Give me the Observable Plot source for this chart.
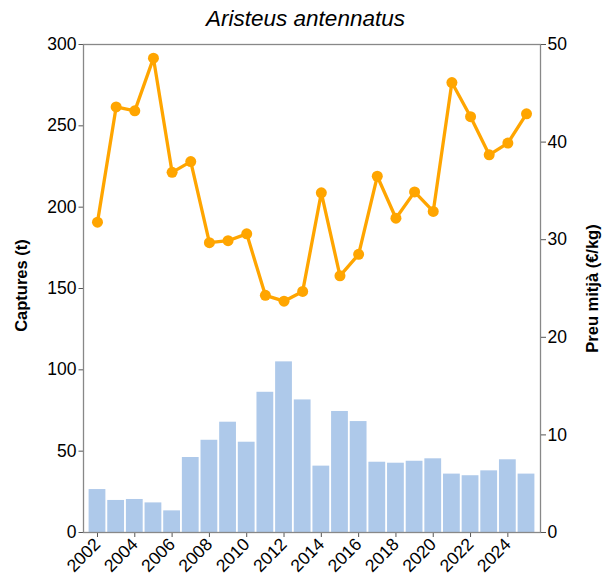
<!DOCTYPE html>
<html>
<head>
<meta charset="utf-8">
<script src="https://cdn.jsdelivr.net/npm/d3@7"></script>
<script src="https://cdn.jsdelivr.net/npm/@observablehq/plot@0.6"></script>
<style>
  html, body { margin: 0; padding: 0; background: #fff; }
  #wrap { position: relative; width: 611px; height: 581px; font-family: "Liberation Sans", Arial, sans-serif; }
  #wrap svg { position: absolute; left: 0; top: 0; }
  .title { position: absolute; left: 0; width: 611px; top: 6px; text-align: center; font-size: 22.5px; font-style: italic; color: #000; }
  .ylab { position: absolute; font-size: 16.5px; font-weight: bold; color: #000; white-space: nowrap; transform-origin: center center; }
</style>
</head>
<body>
<div id="wrap"></div>
<script>
const years = [2002,2003,2004,2005,2006,2007,2008,2009,2010,2011,2012,2013,2014,2015,2016,2017,2018,2019,2020,2021,2022,2023,2024,2025];
const captures = [26.4,19.7,20.3,18.2,13.3,46.1,56.7,67.8,55.5,86.2,104.9,81.5,40.8,74.4,68.2,43.2,42.6,43.8,45.3,35.9,34.9,37.9,44.7,35.9];
const price = [31.8,43.6,43.2,48.6,36.9,38.0,29.7,29.9,30.6,24.3,23.7,24.7,34.8,26.3,28.5,36.5,32.2,34.9,32.9,46.1,42.6,38.7,39.9,42.9];
const leftTicks = [0,50,100,150,200,250,300];
const rightTicks = [0,10,20,30,40,50];
const xTicks = [2002,2004,2006,2008,2010,2012,2014,2016,2018,2020,2022,2024];
const titleText = "Aristeus antennatus";
const leftLabel = "Captures (t)";
const rightLabel = "Preu mitjà (€/kg)";

const data = years.map((y, i) => ({year: y, captures: captures[i], price: price[i]}));

const FS = 17.5;
const common = {
  width: 611, height: 581,
  marginTop: 44, marginBottom: 49, marginLeft: 83, marginRight: 71,
  x: {type: "linear", domain: [2001.25, 2025.75]},
  style: {fontSize: FS + "px", fontFamily: "'Liberation Sans', Arial, sans-serif", background: "transparent", color: "#000", overflow: "visible"}
};

const p1 = Plot.plot({
  ...common,
  y: {domain: [0, 300]},
  marks: [
    Plot.rectY(data, {x1: d => d.year - 0.45, x2: d => d.year + 0.45, y: "captures", fill: "#aec9ea"}),
    Plot.axisY({ticks: leftTicks, tickSize: 4.5, tickPadding: 2.5, stroke: "#555", label: null, fill: "#000", fontSize: FS}),
    Plot.axisX({ticks: xTicks, tickFormat: d => String(d), tickSize: 5, tickRotate: -45, tickPadding: 4, stroke: "#555", label: null, fill: "#000", fontSize: FS}),
    Plot.frame({stroke: "#888", strokeWidth: 1.3})
  ]
});

const p2 = Plot.plot({
  ...common,
  y: {domain: [0, 50]},
  marks: [
    Plot.lineY(data, {x: "year", y: "price", stroke: "#ffa500", strokeWidth: 3.3}),
    Plot.dot(data, {x: "year", y: "price", fill: "#ffa500", r: 5.5}),
    Plot.axisY({anchor: "right", ticks: rightTicks, tickSize: 5, tickPadding: 2, stroke: "#555", label: null, fill: "#000", fontSize: FS}),
    Plot.axisX({ticks: [], label: null})
  ]
});

const wrap = document.getElementById("wrap");
wrap.appendChild(p1);
wrap.appendChild(p2);

const t = document.createElement("div");
t.className = "title"; t.textContent = titleText; wrap.appendChild(t);

function addLabel(text, cx, cy) {
  const d = document.createElement("div");
  d.className = "ylab"; d.textContent = text;
  wrap.appendChild(d);
  const w = d.offsetWidth, h = d.offsetHeight;
  d.style.left = (cx - w / 2) + "px";
  d.style.top = (cy - h / 2) + "px";
  d.style.transform = "rotate(-90deg)";
}
addLabel(leftLabel, 21, 285);
addLabel(rightLabel, 592, 288);
</script>
</body>
</html>
